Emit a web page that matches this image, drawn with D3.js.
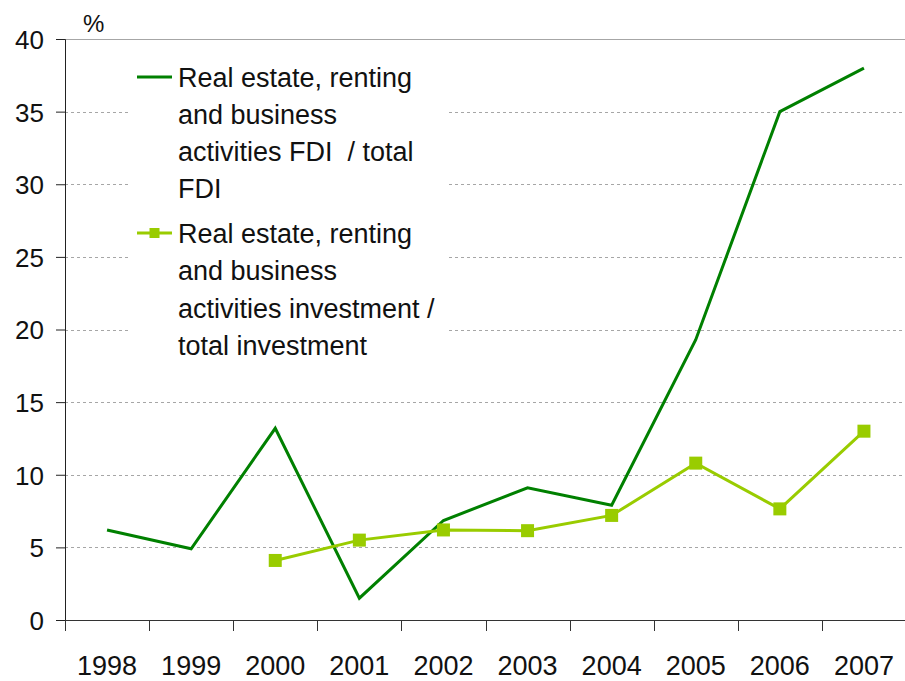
<!DOCTYPE html>
<html>
<head>
<meta charset="utf-8">
<script src="https://cdn.jsdelivr.net/npm/d3@7/dist/d3.min.js"></script>
<style>
  html, body { margin: 0; padding: 0; background: #fff; }
  text { font-family: "Liberation Sans", Arial, sans-serif; fill: #111; }
</style>
</head>
<body>
<div id="viz"></div>
<script>
const years = ['1998', '1999', '2000', '2001', '2002', '2003', '2004', '2005', '2006', '2007'];
const fdiShare = [6.2, 4.9, 13.2, 1.5, 6.85, 9.1, 7.9, 19.3, 35.0, 38.0];
const investShare = [null, null, 4.1, 5.5, 6.2, 6.15, 7.2, 10.8, 7.65, 13.0];
const yTicks = [0, 5, 10, 15, 20, 25, 30, 35, 40];
const legendFdi = ['Real estate, renting', 'and business', 'activities FDI  / total', 'FDI'];
const legendInvest = ['Real estate, renting', 'and business', 'activities investment /', 'total investment'];

(() => {
  let margin = { top: 39, right: 0, bottom: 61, left: 65 },
    width = 905 - margin.left + 1,
    height = 681 - margin.top - margin.bottom;

  let svg = d3.select('#viz')
    .append('svg')
    .attr('width', 905)
    .attr('height', 681)
    .append('g')
    .attr('transform', `translate(${margin.left}, ${margin.top})`);

  let x = d3.scaleBand()
    .domain(years)
    .range([0, width]);

  let y = d3.scaleLinear()
    .domain([0, 40])
    .range([height, 0]);

  // gridlines
  svg.append('g')
    .selectAll('line')
    .data(yTicks.filter(d => d > 0 && d < 40))
    .join('line')
    .attr('x1', 0)
    .attr('x2', width)
    .attr('y1', d => Math.round(y(d)) + 0.5)
    .attr('y2', d => Math.round(y(d)) + 0.5)
    .style('stroke', '#a6a6a6')
    .style('stroke-dasharray', '3,3');

  // top border
  svg.append('line')
    .attr('x1', 0)
    .attr('x2', width)
    .attr('y1', Math.round(y(40)) + 0.5)
    .attr('y2', Math.round(y(40)) + 0.5)
    .style('stroke', '#a6a6a6');

  // legend background hides gridlines
  svg.append('rect')
    .attr('x', 130 - margin.left)
    .attr('y', 50 - margin.top)
    .attr('width', 318)
    .attr('height', 315)
    .style('fill', '#fff');

  // y axis
  let yAxis = svg.append('g')
    .call(d3.axisLeft(y).tickValues(yTicks).tickSize(9).tickPadding(12));
  yAxis.select('.domain').style('stroke', '#222');
  yAxis.selectAll('line').style('stroke', '#222');
  yAxis.selectAll('text')
    .style('font-size', '26px')
    .attr('dy', '0.36em');

  // x axis with ticks at band edges
  let xAxis = svg.append('g')
    .attr('transform', `translate(0,${height})`)
    .call(d3.axisBottom(x).tickSize(0).tickPadding(36));
  xAxis.select('.domain').remove();
  xAxis.selectAll('text').style('font-size', '27px');

  svg.append('line')
    .attr('x1', 0)
    .attr('x2', width)
    .attr('y1', height + 0.5)
    .attr('y2', height + 0.5)
    .style('stroke', '#333');

  svg.append('g')
    .selectAll('line')
    .data(years)
    .join('line')
    .attr('x1', d => Math.round(x(d)) + 0.5)
    .attr('x2', d => Math.round(x(d)) + 0.5)
    .attr('y1', height)
    .attr('y2', height + 11)
    .style('stroke', '#333');

  svg.append('text')
    .attr('x', 83 - margin.left)
    .attr('y', 32 - margin.top)
    .style('font-size', '24px')
    .text('%');

  let cx = d => x(d) + x.bandwidth() / 2;

  // FDI line
  let fdiData = years.map((yr, i) => ({ year: yr, val: fdiShare[i] }));
  svg.append('path')
    .datum(fdiData)
    .attr('d', d3.line().x(d => cx(d.year)).y(d => y(d.val)))
    .style('fill', 'none')
    .style('stroke', '#008000')
    .style('stroke-width', 3);

  // investment line with markers
  let invData = years.map((yr, i) => ({ year: yr, val: investShare[i] }))
    .filter(d => d.val !== null);
  svg.append('path')
    .datum(invData)
    .attr('d', d3.line().x(d => cx(d.year)).y(d => y(d.val)))
    .style('fill', 'none')
    .style('stroke', '#99cc00')
    .style('stroke-width', 3);

  svg.append('g')
    .selectAll('rect')
    .data(invData)
    .join('rect')
    .attr('x', d => cx(d.year) - 6.5)
    .attr('y', d => y(d.val) - 6.5)
    .attr('width', 13)
    .attr('height', 13)
    .style('fill', '#99cc00');

  // legend
  let legend = svg.append('g')
    .attr('transform', `translate(${-margin.left}, ${-margin.top})`);

  legend.append('line')
    .attr('x1', 137).attr('x2', 172)
    .attr('y1', 77).attr('y2', 77)
    .style('stroke', '#008000')
    .style('stroke-width', 3);

  legend.append('line')
    .attr('x1', 137).attr('x2', 172)
    .attr('y1', 233).attr('y2', 233)
    .style('stroke', '#99cc00')
    .style('stroke-width', 3);

  legend.append('rect')
    .attr('x', 149.5).attr('y', 228)
    .attr('width', 10).attr('height', 10)
    .style('fill', '#99cc00');

  legend.append('g')
    .selectAll('text')
    .data(legendFdi)
    .join('text')
    .attr('x', 178)
    .attr('y', (d, i) => 87 + i * 37)
    .style('font-size', '27px')
    .style('white-space', 'pre')
    .text(d => d);

  legend.append('g')
    .selectAll('text')
    .data(legendInvest)
    .join('text')
    .attr('x', 178)
    .attr('y', (d, i) => 243 + i * 37.3)
    .style('font-size', '27px')
    .style('white-space', 'pre')
    .text(d => d);
})();
</script>
</body>
</html>
